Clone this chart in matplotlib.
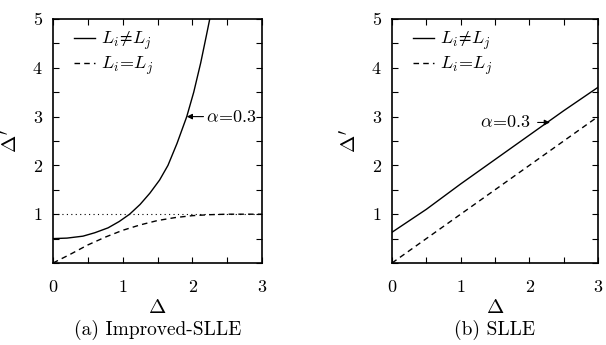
import matplotlib
matplotlib.use("Agg")
import matplotlib.pyplot as plt
from matplotlib.ticker import MultipleLocator, FixedLocator
import numpy as np

plt.rcParams['mathtext.fontset'] = 'cm'
plt.rcParams['font.family'] = ['cmr10', 'DejaVu Serif']
plt.rcParams['axes.unicode_minus'] = False

# Improved-SLLE (a)
a_x_neq = [0.0, 0.2, 0.43, 0.6, 0.79, 0.95, 1.1, 1.25, 1.39, 1.53, 1.65, 1.78, 1.92, 2.02, 2.12, 2.2, 2.25]
a_y_neq = [0.50, 0.51, 0.55, 0.62, 0.72, 0.85, 1.00, 1.20, 1.43, 1.70, 2.00, 2.45, 3.00, 3.50, 4.10, 4.65, 5.0]
a_x_eq = [0.0, 0.25, 0.5, 0.75, 1.0, 1.25, 1.5, 1.75, 2.0, 2.25, 2.5, 2.75, 3.0]
a_y_eq = [0.0, 0.18, 0.37, 0.53, 0.67, 0.78, 0.87, 0.93, 0.97, 0.99, 1.0, 1.0, 1.0]
ref_level = 1.0

# SLLE (b)
b_x_neq = [0.0, 0.5, 1.0, 1.5, 2.0, 2.5, 3.0]
b_y_neq = [0.63, 1.10, 1.62, 2.12, 2.62, 3.12, 3.60]
b_x_eq = [0.0, 3.0]
b_y_eq = [0.0, 3.0]

xticks = [0, 1, 2, 3]
yticks = [1, 2, 3, 4, 5]

fig = plt.figure(figsize=(6.06, 3.45), dpi=100)
ax1 = fig.add_axes([53/606, 82/345, 209/606, 244/345])
ax2 = fig.add_axes([392/606, 82/345, 206/606, 244/345])

def style(ax, caption):
    ax.set_xlim(0, 3)
    ax.set_ylim(0, 5)
    ax.xaxis.set_major_locator(FixedLocator(xticks))
    ax.yaxis.set_major_locator(FixedLocator(yticks))
    ax.xaxis.set_minor_locator(MultipleLocator(0.5))
    ax.yaxis.set_minor_locator(MultipleLocator(0.5))
    ax.tick_params(which='both', direction='in', top=True, right=True, length=4, width=0.8)
    ax.tick_params(axis='x', pad=12, labelsize=13)
    ax.tick_params(axis='y', pad=8, labelsize=13)
    for s in ax.spines.values():
        s.set_linewidth(1.2)
    ax.set_xlabel(r'$\mathit{\Delta}$', fontsize=15, labelpad=3)
    ax.set_ylabel(r"$\mathit{\Delta}'$", fontsize=15, labelpad=8)
    ax.text(0.5, -0.275, caption, transform=ax.transAxes, ha='center', va='center', fontsize=14)
    ax.legend(loc='upper left', bbox_to_anchor=(0.065, 0.985), frameon=False, fontsize=13,
              handlelength=1.2, borderaxespad=0, handletextpad=0.3, labelspacing=0.15)

ax1.plot(a_x_neq, a_y_neq, 'k-', lw=1.0, label=r'$L_i\!\neq\!L_j$')
ax1.plot(a_x_eq, a_y_eq, 'k--', lw=1.0, dashes=(4, 3), label=r'$L_i\!=\!L_j$')
ax1.axhline(ref_level, color='k', lw=0.8, ls=(0, (1, 3)), zorder=0)
ax1.annotate(r'$\alpha\!=\!0.3$', xy=(1.92, 3.0), xytext=(2.2, 3.0), fontsize=13,
             va='center', ha='left',
             arrowprops=dict(arrowstyle='-|>', color='k', lw=0.8, mutation_scale=8, shrinkA=0, shrinkB=0))
style(ax1, '(a) Improved-SLLE')

ax2.plot(b_x_neq, b_y_neq, 'k-', lw=1.0, label=r'$L_i\!\neq\!L_j$')
ax2.plot(b_x_eq, b_y_eq, 'k--', lw=1.0, dashes=(4, 3), label=r'$L_i\!=\!L_j$')
ax2.annotate(r'$\alpha\!=\!0.3$', xy=(2.3, 2.88), xytext=(2.02, 2.88), fontsize=13,
             va='center', ha='right',
             arrowprops=dict(arrowstyle='-|>', color='k', lw=0.8, mutation_scale=8, shrinkA=3, shrinkB=0))
style(ax2, '(b) SLLE')

fig.savefig('out.png', dpi=100)
